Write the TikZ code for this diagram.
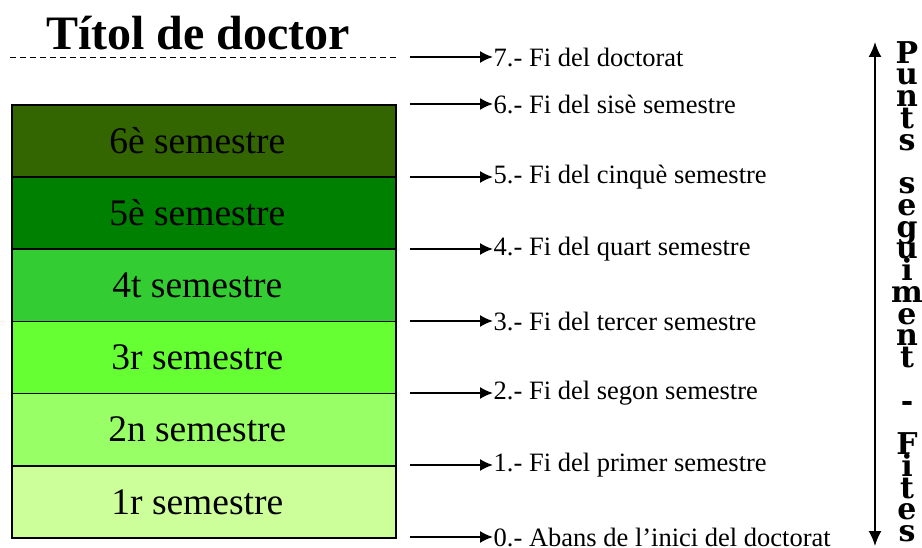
\documentclass[tikz,border=0pt]{standalone}
\usepackage{fontspec}
\setmainfont{Liberation Serif}
\newfontfamily\vfont{DejaVu Serif}
\usetikzlibrary{arrows.meta}
\definecolor{s6}{HTML}{336600}
\definecolor{s5}{HTML}{008000}
\definecolor{s4}{HTML}{33CC33}
\definecolor{s3}{HTML}{66FF33}
\definecolor{s2}{HTML}{99FF66}
\definecolor{s1}{HTML}{CCFF99}
\newcommand{\vstack}[1]{\parbox[t]{36pt}{\centering\baselineskip=21.75pt\lineskiplimit=-100pt\relax #1}}
\begin{document}
\begin{tikzpicture}[x=1pt,y=-1pt,
  sem/.style={draw=black, line width=1.6pt, minimum width=384pt, minimum height=72.2pt,
    anchor=north west, inner sep=0pt, font=\fontsize{37.5}{42}\selectfont,
    execute at end node={\hspace*{13pt}}},
  lbl/.style={anchor=west, inner sep=0.5pt, font=\fontsize{26.5}{28}\selectfont},
  arr/.style={line width=1.8pt, -{Latex[length=13pt,width=12pt]}},
  varr/.style={line width=1.8pt, {Latex[length=15pt,width=13pt]}-{Latex[length=15pt,width=13pt]}},
  vl/.style={anchor=north, inner sep=0pt,
    font=\vfont\bfseries\fontsize{30}{21.75}\selectfont}]
\useasboundingbox (0,0) rectangle (922,548);

% title and dashed line
\node[anchor=base, inner sep=0pt, font=\bfseries\fontsize{48}{52}\selectfont] (title) at (198,50) {Títol de doctor};
\coordinate (d1) at (10,57);
\coordinate (d2) at (396,57);
\draw[line width=0.8pt, dash pattern=on 6pt off 4pt] (d1) -- (d2);

% semester boxes
\node[sem, fill=s6] (b6) at (11,104) {6è semestre};
\node[sem, fill=s5] (b5) at (11,176.2) {5è semestre};
\node[sem, fill=s4] (b4) at (11,248.4) {4t semestre};
\node[sem, fill=s3] (b3) at (11,320.6) {3r semestre};
\node[sem, fill=s2] (b2) at (11,392.8) {2n semestre};
\node[sem, fill=s1] (b1) at (11,465) {1r semestre};

% milestone arrows and labels
\foreach \n/\y/\t in {7/57/{7.- Fi del doctorat},
                      6/104/{6.- Fi del sisè semestre},
                      5/177/{5.- Fi del cinquè semestre},
                      4/249/{4.- Fi del quart semestre},
                      3/321/{3.- Fi del tercer semestre},
                      2/393/{2.- Fi del segon semestre},
                      1/465/{1.- Fi del primer semestre},
                      0/537/{0.- Abans de l’inici del doctorat}}{
  \coordinate (a\n) at (410,\y);
  \node[lbl] (l\n) at (493,\y) {\t};
  \draw[arr] (a\n) -- (l\n.west);
}

% vertical double arrow
\coordinate (vt) at (875,42);
\coordinate (vb) at (875,546);
\draw[varr] (vb) -- (vt);

% vertical text
\node[vl] (vtext) at (907,41) {\vstack{P\par u\par n\par t\par s\par \mbox{}\par s\par e\par g\par u\par i\par m\par e\par n\par t\par \mbox{}\par -\par \mbox{}\par F\par i\par t\par e\par s}};
\end{tikzpicture}
\end{document}
